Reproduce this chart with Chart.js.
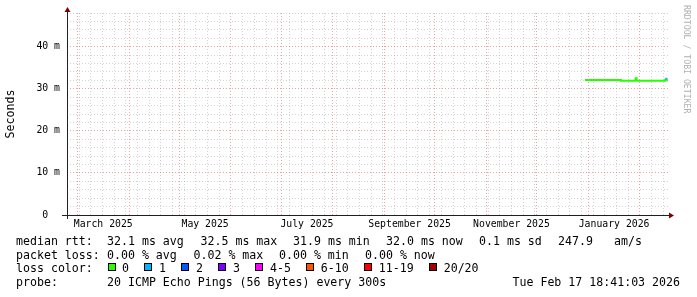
<!DOCTYPE html>
<html>
<head>
<meta charset="utf-8">
<script src="https://cdn.jsdelivr.net/npm/chart.js@4.4.1/dist/chart.umd.min.js"></script>
<style>
  html, body { margin: 0; padding: 0; background: #fff; }
  #rtt { display: block; }
</style>
</head>
<body>
<canvas id="rtt" width="697" height="297"></canvas>
<script>
// x values are days counted from 2025-01-01 (= day 0)
var x_min = 52.78
var x_max = 412.78
var month_starts = [59, 90, 120, 151, 181, 212, 243, 273, 304, 334, 365, 396]
var month_label_days = [74.5, 135.5, 196.5, 258, 319, 380.5]
var month_labels = ["March 2025", "May 2025", "July 2025", "September 2025", "November 2025", "January 2026"]

// y values in ms
var y_max = 48
var y_label_values = [0, 10, 20, 30, 40]
var y_labels = ["0  ", "10 m", "20 m", "30 m", "40 m"]

// median rtt, each sample holds until the next one
var rtt_days   = [363.0, 384.6, 393.4, 394.0, 411.2, 411.9, 412.78]
var rtt_median = [32.1, 31.9, 32.5, 31.9, 32.4, 32.0, 32.0]
var rtt_loss   = [0, 0, 0, 0, 1, 0, 0]

var loss_labels = ["0", "1", "2", "3", "4-5", "6-10", "11-19", "20/20"]
var loss_colors = ["#26ff00", "#00b8ff", "#0059ff", "#7e00ff", "#ff00ff", "#ff5500", "#ff0000", "#a00000"]

var rtt_stats  = ["32.1 ms avg", "32.5 ms max", "31.9 ms min", "32.0 ms now", "0.1 ms sd", "247.9", "am/s"]
var loss_stats = ["0.00 % avg", "0.02 % max", "0.00 % min", "0.00 % now"]
var probe_text = "20 ICMP Echo Pings (56 Bytes) every 300s"
var probe_date = "Tue Feb 17 18:41:03 2026"

var MONO = "'DejaVu Sans Mono', monospace"

function grid_color(major) {
  return major ? "rgba(222,48,48,0.45)" : "rgba(140,140,140,0.38)"
}

var rrd_extras = {
  id: "rrd_extras",
  afterDraw: function(chart) {
    var ctx = chart.ctx
    var xs = chart.scales.x
    var ys = chart.scales.y
    var x0 = xs.getPixelForValue(x_min)
    var x1 = xs.getPixelForValue(x_max)
    var y0 = ys.getPixelForValue(0)
    var y1 = ys.getPixelForValue(y_max)

    ctx.save()
    // axes
    ctx.strokeStyle = "#202020"
    ctx.lineWidth = 1
    ctx.beginPath()
    ctx.moveTo(Math.round(x0) - 5, Math.round(y0) + 0.5)
    ctx.lineTo(Math.round(x1) + 3, Math.round(y0) + 0.5)
    ctx.moveTo(Math.round(x0) + 0.5, Math.round(y0) + 4)
    ctx.lineTo(Math.round(x0) + 0.5, Math.round(y1) - 3)
    ctx.stroke()
    // arrows
    ctx.fillStyle = "#800000"
    ctx.beginPath()
    var ax = Math.round(x0) + 0.5, ay = Math.round(y1) - 1
    ctx.moveTo(ax - 3, ay); ctx.lineTo(ax + 3, ay); ctx.lineTo(ax, ay - 5); ctx.closePath()
    ctx.fill()
    ctx.beginPath()
    var bx = Math.round(x1) + 1, by = Math.round(y0) + 0.5
    ctx.moveTo(bx, by - 3); ctx.lineTo(bx, by + 3); ctx.lineTo(bx + 5, by); ctx.closePath()
    ctx.fill()

    // watermark
    ctx.save()
    ctx.translate(686, 5)
    ctx.rotate(Math.PI / 2)
    ctx.font = "8.2px " + MONO
    ctx.fillStyle = "#b0b0b0"
    ctx.textBaseline = "middle"
    ctx.textAlign = "left"
    ctx.fillText("RRDTOOL / TOBI OETIKER", 0, 0)
    ctx.restore()

    // legend text
    ctx.font = "11.6px " + MONO
    ctx.fillStyle = "#000"
    ctx.textBaseline = "middle"
    ctx.textAlign = "left"
    var rows = [242, 255.5, 269, 283]

    ctx.fillText("median rtt:", 16, rows[0])
    var rtt_x = [107, 200.5, 293, 386, 479, 558, 614]
    rtt_stats.forEach(function(s, i) { ctx.fillText(s, rtt_x[i], rows[0]) })

    ctx.fillText("packet loss:", 16, rows[1])
    var loss_x = [107, 193.5, 279, 365]
    loss_stats.forEach(function(s, i) { ctx.fillText(s, loss_x[i], rows[1]) })

    ctx.fillText("loss color:", 16, rows[2])
    var bxp = 107.5
    loss_labels.forEach(function(lbl, i) {
      ctx.fillStyle = loss_colors[i]
      ctx.fillRect(Math.round(bxp), rows[2] - 6, 8, 8)
      ctx.strokeStyle = "#000"
      ctx.strokeRect(Math.round(bxp) + 0.5, rows[2] - 5.5, 7, 7)
      ctx.fillStyle = "#000"
      var lx = bxp + 14.5
      ctx.fillText(lbl, lx, rows[2])
      bxp = lx + ctx.measureText(lbl).width + 15.5
    })

    ctx.fillText("probe:", 16, rows[3])
    ctx.fillText(probe_text, 107, rows[3])
    ctx.textAlign = "right"
    ctx.fillText(probe_date, 680, rows[3])
    ctx.restore()
  }
}

var ctx = document.getElementById("rtt").getContext("2d")

var config = {
  type: "line",
  data: {
    datasets: [{
      label: "median rtt",
      data: rtt_days.map(function(d, i) { return {x: d, y: rtt_median[i]} }),
      borderWidth: 2,
      pointRadius: 0,
      stepped: "before",
      fill: false,
      borderColor: loss_colors[0],
      segment: {
        borderColor: function(c) { return loss_colors[rtt_loss[c.p0DataIndex]] }
      }
    }]
  },
  options: {
    responsive: false,
    animation: false,
    devicePixelRatio: 1,
    layout: { padding: { top: 13, right: 29, left: 0, bottom: 0 } },
    plugins: { legend: { display: false }, tooltip: { enabled: false } },
    scales: {
      x: {
        type: "linear",
        min: x_min,
        max: x_max,
        afterBuildTicks: function(s) {
          var t = month_starts.map(function(v) { return {value: v} })
          // weekly lines (sundays), skip those that fall on a month start
          for (var d = 53; d <= x_max; d += 7) {
            if (month_starts.indexOf(d) < 0) t.push({value: d})
          }
          s.ticks = t
        },
        ticks: { display: false },
        grid: {
          drawTicks: false,
          color: function(c) { return grid_color(month_starts.indexOf(c.tick.value) >= 0) }
        },
        border: { display: false, dash: [1, 2] },
        afterFit: function(s) { s.height = 0; s.paddingLeft = 0; s.paddingRight = 0 }
      },
      xl: {
        type: "linear",
        position: "bottom",
        min: x_min,
        max: x_max,
        afterBuildTicks: function(s) {
          s.ticks = month_label_days.map(function(v) { return {value: v} })
        },
        ticks: {
          autoSkip: false,
          maxRotation: 0,
          padding: 4,
          color: "#000",
          font: { family: MONO, size: 9.8 },
          callback: function(v, i) { return month_labels[i] }
        },
        grid: { display: false, drawTicks: false },
        border: { display: false },
        afterFit: function(s) { s.height = 82; s.paddingLeft = 0; s.paddingRight = 0 }
      },
      y: {
        type: "linear",
        min: 0,
        max: y_max,
        afterBuildTicks: function(s) {
          var t = []
          for (var v = 0; v <= y_max; v += 2) t.push({value: v})
          s.ticks = t
        },
        ticks: {
          autoSkip: false,
          padding: 7,
          color: "#000",
          font: { family: MONO, size: 9.8 },
          callback: function(v) {
            var k = y_label_values.indexOf(v)
            return k >= 0 ? y_labels[k] : ""
          }
        },
        grid: {
          drawTicks: false,
          color: function(c) { return grid_color(c.tick.value % 10 === 0) }
        },
        border: { display: false, dash: [1, 2] },
        title: {
          display: true,
          text: "Seconds",
          color: "#000",
          font: { family: MONO, size: 11.6 },
          padding: { top: 4, bottom: 0 }
        },
        afterFit: function(s) { s.width = 67; s.paddingTop = 0; s.paddingBottom = 0 }
      }
    }
  },
  plugins: [rrd_extras]
}

var chart = new Chart(ctx, config)
</script>
</body>
</html>
